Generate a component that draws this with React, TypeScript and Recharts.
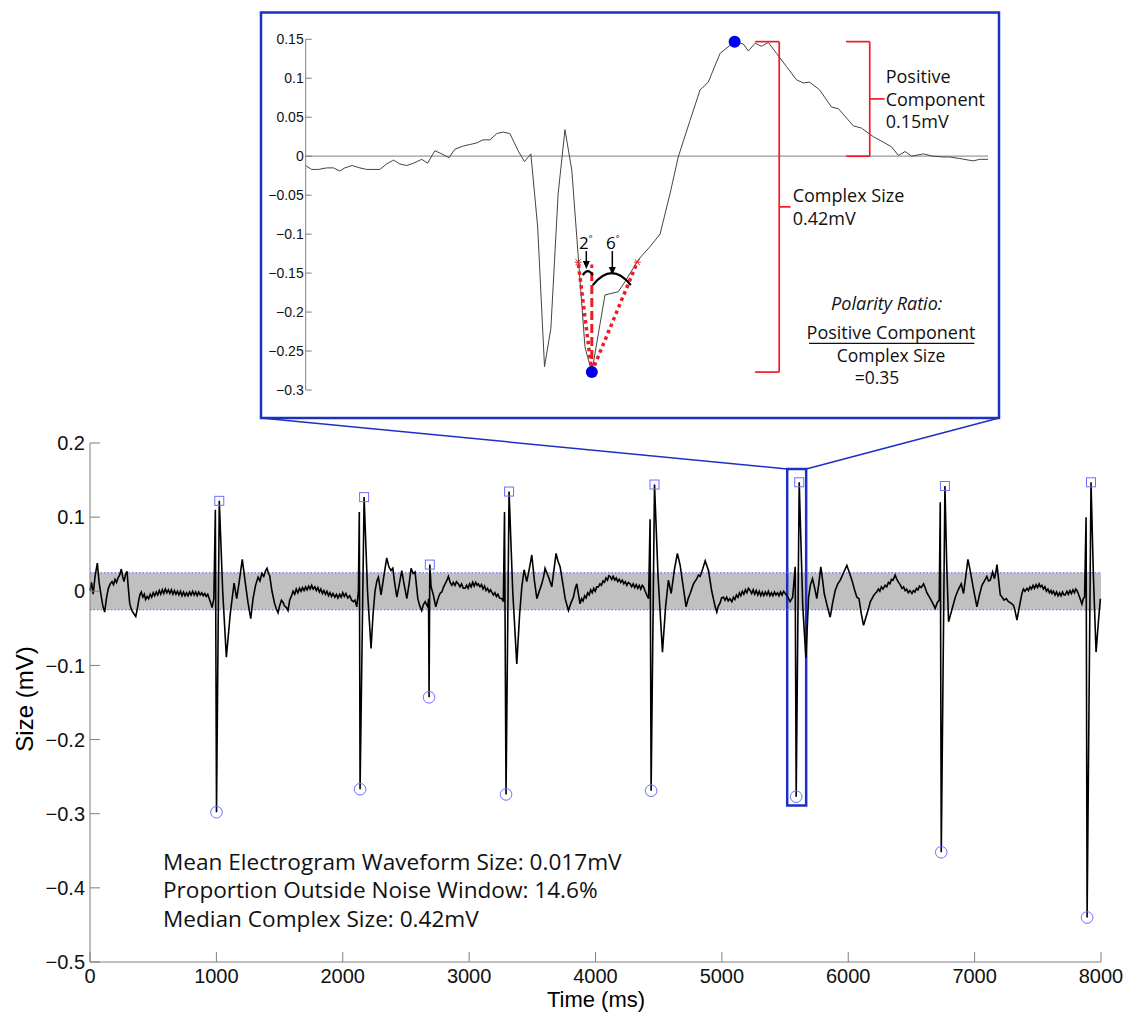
import React from "react";
import {
  ComposedChart,
  Line,
  Scatter,
  XAxis,
  YAxis,
  ReferenceArea,
  ReferenceLine,
  ReferenceDot,
} from "recharts";

// Electrogram trace: [time ms, size mV]
const trace: [number, number][] = [
  [0, 0.001], [12, 0.012], [25, -0.004], [40, 0.02], [58, 0.038], [72, 0.012], [88, -0.006], [102, -0.02],
  [116, -0.028], [130, -0.01], [145, 0.004], [160, 0.01], [174, 0.013], [186, 0.009], [198, 0.016], [210, 0.012],
  [222, 0.018], [235, 0.022], [248, 0.03], [258, 0.02], [269, 0.013], [280, 0.022], [293, 0.027], [303, 0.005],
  [314, -0.016], [326, -0.024], [338, -0.028], [350, -0.031], [362, -0.034], [374, -0.024], [386, -0.012], [396, -0.004],
  [406, -0.001], [418, -0.008], [430, -0.004], [440, -0.011], [452, -0.007], [464, -0.01], [476, -0.004], [488, -0.008],
  [500, -0.002], [512, -0.006], [524, -0.001], [536, -0.005], [548, 0.001], [560, -0.004], [572, 0.002], [584, -0.003],
  [596, 0.003], [608, -0.002], [620, 0.002], [632, -0.003], [644, 0.002], [656, -0.004], [668, 0.001], [680, -0.004],
  [692, 0.0], [704, -0.005], [716, 0.0], [728, -0.006], [740, -0.001], [752, -0.006], [764, -0.002], [776, -0.006],
  [788, -0.001], [800, -0.005], [812, 0.0], [824, -0.005], [836, -0.001], [848, -0.006], [860, -0.001], [872, -0.005],
  [884, -0.002], [896, -0.006], [908, -0.003], [920, -0.007], [932, -0.004], [944, -0.01], [956, -0.016], [966, -0.022],
  [980, -0.01], [992, 0.11], [1001, -0.298], [1023, 0.122], [1050, 0.0], [1079, -0.089], [1110, -0.03], [1140, 0.011],
  [1161, -0.01], [1180, 0.012], [1205, 0.043], [1230, 0.01], [1250, -0.015], [1272, -0.037], [1290, -0.01], [1310, 0.008],
  [1330, 0.019], [1345, 0.014], [1360, 0.024], [1375, 0.02], [1390, 0.028], [1401, 0.031], [1412, 0.024], [1422, 0.021],
  [1440, 0.0], [1460, -0.016], [1475, -0.024], [1488, -0.029], [1500, -0.02], [1515, -0.012], [1528, -0.015], [1540, -0.02],
  [1555, -0.022], [1567, -0.026], [1580, -0.012], [1595, -0.006], [1607, 0.0], [1620, -0.004], [1632, 0.003], [1645, -0.002],
  [1658, 0.004], [1670, 0.0], [1682, 0.005], [1694, 0.001], [1706, 0.006], [1718, 0.002], [1730, 0.007], [1742, 0.003],
  [1754, 0.008], [1766, 0.003], [1779, 0.006], [1791, 0.001], [1803, 0.005], [1815, -0.001], [1827, 0.003], [1839, -0.003],
  [1851, 0.001], [1863, -0.004], [1875, 0.0], [1887, -0.006], [1899, -0.002], [1911, -0.007], [1923, -0.003], [1937, -0.008],
  [1950, -0.004], [1962, -0.009], [1975, -0.004], [1987, -0.008], [2000, -0.002], [2012, -0.007], [2025, -0.003], [2040, -0.009],
  [2055, -0.006], [2070, -0.012], [2084, -0.014], [2097, -0.012], [2111, -0.021], [2124, 0.0], [2131, 0.107], [2137, -0.267],
  [2169, 0.127], [2196, 0.0], [2224, -0.077], [2240, -0.03], [2256, 0.001], [2270, 0.014], [2282, 0.019], [2292, 0.008],
  [2303, -0.005], [2325, 0.02], [2348, 0.045], [2365, 0.033], [2382, 0.028], [2396, 0.031], [2412, 0.01], [2428, -0.008],
  [2448, 0.01], [2467, 0.028], [2487, 0.008], [2507, -0.01], [2525, 0.01], [2541, 0.031], [2556, 0.024], [2572, 0.026],
  [2583, 0.008], [2594, -0.01], [2610, -0.02], [2625, -0.026], [2638, -0.018], [2652, -0.014], [2663, -0.018], [2673, -0.021],
  [2679, -0.01], [2683, -0.143], [2689, 0.036], [2699, 0.006], [2717, -0.005], [2736, -0.021], [2750, -0.012], [2762, -0.006],
  [2773, -0.002], [2784, -0.001], [2796, 0.005], [2810, 0.01], [2822, 0.014], [2836, 0.02], [2850, 0.012], [2863, 0.008],
  [2875, 0.012], [2888, 0.008], [2900, 0.013], [2915, 0.01], [2928, 0.006], [2940, 0.01], [2954, 0.004], [2968, 0.004],
  [2980, 0.008], [2992, 0.004], [3004, 0.01], [3016, 0.006], [3028, 0.012], [3040, 0.007], [3052, 0.012], [3064, 0.008],
  [3073, 0.01], [3086, 0.006], [3098, 0.009], [3110, 0.003], [3122, 0.007], [3134, 0.001], [3146, 0.004], [3158, -0.001],
  [3170, 0.002], [3179, -0.001], [3192, -0.005], [3204, -0.002], [3216, -0.007], [3228, -0.004], [3240, -0.009], [3259, -0.01],
  [3271, -0.014], [3280, 0.107], [3292, -0.274], [3316, 0.1345], [3345, 0.0], [3377, -0.098], [3400, -0.03], [3417, 0.006],
  [3435, 0.029], [3456, 0.013], [3476, 0.03], [3496, 0.049], [3516, 0.015], [3536, -0.01], [3555, 0.0], [3575, 0.01],
  [3590, 0.02], [3601, 0.031], [3617, 0.024], [3633, 0.017], [3654, 0.006], [3672, 0.03], [3688, 0.051], [3704, 0.04],
  [3720, 0.033], [3740, 0.012], [3760, -0.01], [3773, -0.018], [3786, -0.026], [3805, -0.016], [3825, -0.008], [3840, 0.004],
  [3852, 0.01], [3865, -0.004], [3878, -0.017], [3890, -0.01], [3902, -0.013], [3914, -0.006], [3926, -0.009], [3938, -0.002],
  [3950, -0.005], [3962, 0.002], [3974, -0.002], [3986, 0.004], [3998, 0.0], [4010, 0.006], [4023, 0.006], [4035, 0.01],
  [4047, 0.008], [4059, 0.014], [4071, 0.012], [4083, 0.018], [4095, 0.015], [4106, 0.021], [4116, 0.02], [4128, 0.016],
  [4140, 0.02], [4152, 0.015], [4164, 0.018], [4176, 0.013], [4188, 0.016], [4200, 0.012], [4212, 0.015], [4224, 0.01],
  [4236, 0.013], [4248, 0.008], [4260, 0.012], [4274, 0.01], [4286, 0.006], [4298, 0.01], [4310, 0.005], [4322, 0.009],
  [4334, 0.004], [4346, 0.008], [4358, 0.003], [4370, 0.008], [4380, 0.006], [4393, 0.0], [4406, -0.005], [4420, -0.01],
  [4432, 0.097], [4440, -0.269], [4467, 0.144], [4495, 0.02], [4530, -0.082], [4555, -0.02], [4577, 0.015], [4599, -0.003],
  [4625, 0.03], [4648, 0.051], [4670, 0.035], [4695, 0.005], [4717, -0.021], [4733, -0.01], [4749, -0.003], [4775, 0.01],
  [4802, 0.017], [4815, 0.022], [4828, 0.02], [4848, 0.03], [4868, 0.041], [4894, 0.028], [4920, 0.0], [4947, -0.021],
  [4960, -0.028], [4972, -0.02], [4985, -0.016], [4998, -0.009], [5013, -0.008], [5025, -0.012], [5038, -0.008], [5050, -0.013],
  [5063, -0.01], [5079, -0.014], [5091, -0.008], [5103, -0.011], [5115, -0.005], [5127, -0.008], [5139, -0.002], [5150, -0.006],
  [5162, 0.0], [5174, -0.004], [5186, 0.002], [5198, -0.002], [5210, 0.004], [5224, 0.001], [5236, -0.003], [5248, 0.002],
  [5260, -0.004], [5272, 0.001], [5284, -0.005], [5296, 0.0], [5308, -0.006], [5320, -0.001], [5332, -0.006], [5344, -0.001],
  [5356, -0.005], [5368, 0.0], [5380, -0.006], [5392, -0.002], [5404, -0.006], [5416, -0.001], [5428, -0.005], [5440, -0.002],
  [5452, -0.006], [5464, -0.001], [5476, -0.005], [5488, 0.0], [5501, -0.003], [5515, -0.006], [5528, -0.01], [5540, -0.014],
  [5560, -0.008], [5580, 0.033], [5588, -0.277], [5612, 0.147], [5640, -0.02], [5665, -0.09], [5686, -0.008], [5700, 0.008],
  [5717, 0.017], [5735, 0.004], [5751, -0.01], [5767, 0.01], [5783, 0.033], [5797, 0.015], [5810, -0.003], [5834, -0.02],
  [5857, -0.035], [5877, -0.015], [5897, 0.001], [5917, 0.01], [5937, 0.015], [5963, 0.025], [5989, 0.035], [6009, 0.025],
  [6029, 0.015], [6048, 0.003], [6068, -0.008], [6085, -0.01], [6103, -0.03], [6121, -0.046], [6140, -0.035], [6161, -0.023],
  [6175, -0.014], [6188, -0.01], [6200, -0.006], [6213, -0.003], [6225, -0.001], [6238, 0.003], [6250, 0.0], [6262, 0.006],
  [6275, 0.003], [6292, 0.008], [6305, 0.006], [6318, 0.012], [6330, 0.01], [6342, 0.016], [6355, 0.015], [6371, 0.022],
  [6385, 0.016], [6398, 0.012], [6411, 0.009], [6425, 0.004], [6438, 0.006], [6450, 0.001], [6462, 0.003], [6475, -0.002],
  [6488, 0.001], [6504, -0.003], [6516, 0.001], [6528, -0.001], [6540, 0.004], [6552, 0.002], [6564, 0.007], [6578, 0.005],
  [6596, 0.01], [6610, 0.004], [6622, -0.002], [6636, -0.006], [6649, -0.01], [6668, -0.016], [6688, -0.023], [6705, -0.015],
  [6720, -0.012], [6728, 0.12], [6736, -0.352], [6765, 0.142], [6780, 0.03], [6794, -0.041], [6820, -0.025], [6847, -0.008],
  [6870, 0.002], [6894, 0.01], [6912, -0.003], [6930, 0.02], [6947, 0.043], [6965, 0.028], [6990, 0.004], [7018, -0.021],
  [7038, -0.005], [7058, 0.008], [7078, 0.014], [7097, 0.02], [7110, 0.014], [7124, 0.015], [7142, 0.026], [7157, 0.017],
  [7168, 0.026], [7177, 0.036], [7190, 0.015], [7203, -0.005], [7218, -0.008], [7233, -0.012], [7250, -0.01], [7268, -0.014],
  [7288, -0.016], [7308, -0.019], [7322, -0.028], [7335, -0.039], [7355, -0.02], [7374, -0.003], [7386, 0.003], [7398, 0.0],
  [7414, 0.004], [7426, 0.001], [7438, 0.006], [7450, 0.003], [7462, 0.008], [7474, 0.004], [7486, 0.009], [7498, 0.005],
  [7510, 0.01], [7520, 0.006], [7532, 0.008], [7544, 0.003], [7556, 0.006], [7568, 0.0], [7580, 0.003], [7592, -0.002],
  [7604, 0.001], [7612, -0.003], [7624, 0.0], [7636, -0.005], [7648, -0.001], [7660, -0.006], [7672, -0.002], [7684, -0.006],
  [7696, -0.001], [7708, -0.005], [7717, -0.005], [7730, 0.0], [7742, -0.004], [7754, 0.001], [7766, -0.003], [7778, 0.002],
  [7790, -0.002], [7800, 0.003], [7810, 0.001], [7822, -0.004], [7835, -0.01], [7849, -0.017], [7860, -0.01], [7870, -0.008],
  [7882, 0.1], [7890, -0.44], [7921, 0.147], [7940, 0.02], [7961, -0.082], [7980, -0.04], [7995, -0.01],
];

// detected complex extrema
const peaks: [number, number][] = [
  [1023, 0.122], [2169, 0.127], [2689, 0.036], [3316, 0.1345],
  [4467, 0.144], [5612, 0.147], [6765, 0.142], [7921, 0.147],
];
const troughs: [number, number][] = [
  [1001, -0.298], [2137, -0.267], [2683, -0.143], [3292, -0.274],
  [4440, -0.269], [5588, -0.277], [6736, -0.352], [7890, -0.44],
];

const noiseWindow = 0.025;
const timeTicks = [0, 1000, 2000, 3000, 4000, 5000, 6000, 7000, 8000];
const sizeTicks = [0.2, 0.1, 0, -0.1, -0.2, -0.3, -0.4, -0.5];

// zoomed complex (ms from window start)
const zoomTrace: [number, number][] = [
  [0, -0.012], [1.3, -0.017], [2.8, -0.017], [4.6, -0.015], [6.1, -0.015], [7.5, -0.019], [8.6, -0.015],
  [10.2, -0.012], [11.9, -0.015], [13.4, -0.017], [16.3, -0.017], [17.8, -0.01], [19.3, -0.005], [20.7, -0.01],
  [22.2, -0.012], [23.7, -0.009], [25.5, -0.004], [26.8, -0.009], [28.4, 0.007], [29.9, 0.003], [31.5, -0.002],
  [32.8, 0.009], [34.6, 0.013], [36.1, 0.015], [37.6, 0.017], [39.0, 0.021], [40.5, 0.021], [42.0, 0.029],
  [43.4, 0.031], [44.9, 0.029], [46.7, 0.007], [48.1, -0.007], [49.5, 0.003], [51.0, -0.091], [52.5, -0.27],
  [53.9, -0.221], [55.5, -0.048], [57.0, 0.034], [58.5, -0.018], [61.4, -0.245], [62.9, -0.277], [65.8, -0.178],
  [68.7, -0.174], [70.2, -0.161], [73.1, -0.133], [75.7, -0.116], [77.9, -0.1], [80.1, -0.048], [81.9, -0.001],
  [84.5, 0.046], [86.7, 0.085], [88.5, 0.095], [91.1, 0.132], [94.3, 0.147], [96.2, 0.144], [97.3, 0.135],
  [98.8, 0.145], [100.2, 0.141], [101.7, 0.146], [103.5, 0.132], [105.7, 0.115], [107.9, 0.098], [109.4, 0.094],
  [110.8, 0.095], [113.0, 0.085], [115.6, 0.063], [117.1, 0.061], [120.4, 0.039], [122.2, 0.036], [124.8, 0.025],
  [127.0, 0.018], [128.8, 0.012], [130.3, 0.001], [131.8, 0.006], [133.2, 0.0], [135.8, 0.003], [137.9, 0.0],
  [140.1, -0.001], [141.6, -0.001], [143.8, -0.003], [146.7, -0.006], [148.2, -0.004], [150.0, -0.004],
];
const zoomTicks = [0.15, 0.1, 0.05, 0, -0.05, -0.1, -0.15, -0.2, -0.25, -0.3];

const zoomPeak = { t: 94.3, v: 0.147 };
const zoomTrough = { t: 62.9, v: -0.277 };
// slope end points used for the onset / offset angles
const downSlope = { t: 59.9, v: -0.136 };
const upSlope = { t: 72.9, v: -0.136 };
const bracketPos = { complex: 104.1, positive: 124.0 };

const statLines = [
  "Mean Electrogram Waveform Size: 0.017mV",
  "Proportion Outside Noise Window: 14.6%",
  "Median Complex Size: 0.42mV",
];

const toRows = (pairs: [number, number][]) => pairs.map(([t, v]) => ({ t, v }));

const W = 1135;
const H = 1012;
const plot = { left: 90, top: 443, width: 1011, height: 519 };
const pxX = (t: number) => plot.left + (t / 8000) * plot.width;
const pxY = (v: number) => plot.top + ((0.2 - v) / 0.7) * plot.height;

const highlight = { t1: 5517, t2: 5667, v1: -0.289, v2: 0.165 };
const insetBox = { x: 261, y: 12.5, w: 738, h: 405.5 };

const AXIS = "#7f7f7f";
const MARK = "#6e6eff";
const FRAME = "#1c30c4";
const RED = "#ec1c24";
const helv = "'Liberation Sans', Arial, sans-serif";
const human = "'Open Sans', sans-serif";

const fmt = (v: number) => (v < 0 ? "\u2212" + String(Math.abs(v)) : String(v));

const Square = (p: any) => (
  <rect x={p.cx - 4.5} y={p.cy - 4.5} width={9} height={9} fill="none" stroke={MARK} strokeWidth={1} />
);
const Ring = (p: any) => <circle cx={p.cx} cy={p.cy} r={5.8} fill="none" stroke={MARK} strokeWidth={1} />;

const Star = (p: any) => (
  <g stroke={RED} strokeWidth={1}>
    <line x1={p.cx - 3.5} y1={p.cy} x2={p.cx + 3.5} y2={p.cy} />
    <line x1={p.cx - 2.5} y1={p.cy - 3} x2={p.cx + 2.5} y2={p.cy + 3} />
    <line x1={p.cx - 2.5} y1={p.cy + 3} x2={p.cx + 2.5} y2={p.cy - 3} />
  </g>
);

// angle arcs, arrows and degree labels drawn around the trough vertex
const AngleMarks = (p: any) => {
  const { cx, cy } = p;
  const arrow = (x: number, y0: number, tip: number) => (
    <g>
      <line x1={x} y1={cy + y0} x2={x} y2={cy + tip - 6} stroke="#000" strokeWidth={1.5} />
      <polygon points={`${x - 3.5},${cy + tip - 8} ${x + 3.5},${cy + tip - 8} ${x},${cy + tip}`} fill="#000" />
    </g>
  );
  return (
    <g>
      <circle cx={cx} cy={cy} r={6} fill="#0000ee" />
      <path d={`M${cx - 9},${cy - 97} Q${cx - 4},${cy - 105} ${cx + 1},${cy - 97}`} stroke="#000" strokeWidth={2.2} fill="none" />
      <path d={`M${cx + 1},${cy - 87} Q${cx + 20},${cy - 111} ${cx + 39},${cy - 87}`} stroke="#000" strokeWidth={2.2} fill="none" />
      {arrow(cx - 5.5, -121, -103)}
      {arrow(cx + 20.5, -121, -97)}
      <text x={cx - 6} y={cy - 123} textAnchor="middle" fontFamily={human} fontSize={17} fill="#000">
        2<tspan fontSize={9} dy={-7}>°</tspan>
      </text>
      <text x={cx + 21} y={cy - 123} textAnchor="middle" fontFamily={human} fontSize={17} fill="#000">
        6<tspan fontSize={9} dy={-7}>°</tspan>
      </text>
    </g>
  );
};

function MainChart() {
  return (
    <ComposedChart width={W} height={H} data={toRows(trace)} margin={{ top: 443, right: 34, bottom: 20, left: 30 }}>
      <XAxis
        type="number"
        dataKey="t"
        domain={[0, 8000]}
        ticks={timeTicks}
        height={30}
        tickSize={-10}
        tickMargin={17}
        stroke={AXIS}
        tick={{ fill: "#111", fontSize: 20, fontFamily: helv }}
      />
      <YAxis
        type="number"
        domain={[-0.5, 0.2]}
        ticks={sizeTicks}
        width={60}
        tickSize={-10}
        tickMargin={15}
        stroke={AXIS}
        tickFormatter={fmt}
        tick={{ fill: "#111", fontSize: 20, fontFamily: helv }}
      />
      <ReferenceArea x1={0} x2={8000} y1={-noiseWindow} y2={noiseWindow} fill="#c0c0c0" fillOpacity={1} stroke="none" />
      <ReferenceLine y={noiseWindow} stroke="#5a5aff" strokeDasharray="1.5 2" strokeWidth={1} />
      <ReferenceLine y={-noiseWindow} stroke="#5a5aff" strokeDasharray="1.5 2" strokeWidth={1} />
      <Line dataKey="v" stroke="#000" strokeWidth={1.6} dot={false} type="linear" isAnimationActive={false} />
      <Scatter data={toRows(peaks)} dataKey="v" shape={Square} isAnimationActive={false} />
      <Scatter data={toRows(troughs)} dataKey="v" shape={Ring} isAnimationActive={false} />
      <ReferenceArea
        x1={highlight.t1}
        x2={highlight.t2}
        y1={highlight.v1}
        y2={highlight.v2}
        fill="none"
        stroke={FRAME}
        strokeWidth={2.5}
        ifOverflow="visible"
      />
    </ComposedChart>
  );
}

function InsetChart() {
  const seg = (a: [number, number], b: [number, number], extra: any = {}) => (
    <ReferenceLine
      segment={[{ x: a[0], y: a[1] }, { x: b[0], y: b[1] }]}
      stroke={RED}
      strokeWidth={1.7}
      ifOverflow="visible"
      {...extra}
    />
  );
  const cs = bracketPos.complex;
  const pc = bracketPos.positive;
  const mid = (zoomPeak.v + zoomTrough.v) / 2;
  return (
    <ComposedChart width={W} height={420} data={toRows(zoomTrace)} margin={{ top: 39.3, right: 147, bottom: 30, left: 255.7 }}>
      <XAxis type="number" dataKey="t" domain={[0, 150]} hide />
      <YAxis
        type="number"
        domain={[-0.3, 0.15]}
        ticks={zoomTicks}
        width={50}
        tickSize={-6}
        tickMargin={8}
        stroke={AXIS}
        tickFormatter={fmt}
        tick={{ fill: "#111", fontSize: 14, fontFamily: helv }}
      />
      <ReferenceLine y={0} stroke="#9a9a9a" strokeWidth={1.2} />
      <Line dataKey="v" stroke="#444" strokeWidth={1} dot={false} type="linear" isAnimationActive={false} />
      {/* onset / offset slopes and vertical reference */}
      {seg([zoomTrough.t, zoomTrough.v], [downSlope.t, downSlope.v], { strokeWidth: 3.5, strokeDasharray: "3.5 3.5" })}
      {seg([zoomTrough.t, zoomTrough.v], [upSlope.t, upSlope.v], { strokeWidth: 3.5, strokeDasharray: "3.5 3.5" })}
      {seg([zoomTrough.t, zoomTrough.v], [zoomTrough.t, -0.139], { strokeWidth: 3, strokeDasharray: "9 4" })}
      <ReferenceDot x={downSlope.t} y={downSlope.v} shape={Star} ifOverflow="visible" />
      <ReferenceDot x={upSlope.t} y={upSlope.v} shape={Star} ifOverflow="visible" />
      {/* complex size bracket */}
      {seg([cs, zoomPeak.v], [cs, zoomTrough.v])}
      {seg([cs - 5.3, zoomPeak.v], [cs, zoomPeak.v])}
      {seg([cs - 5.3, zoomTrough.v], [cs, zoomTrough.v])}
      {seg([cs, mid], [cs + 2.5, mid])}
      {/* positive component bracket */}
      {seg([pc, zoomPeak.v], [pc, 0])}
      {seg([pc - 5.2, zoomPeak.v], [pc, zoomPeak.v])}
      {seg([pc - 5.2, 0], [pc, 0])}
      {seg([pc, zoomPeak.v / 2], [pc + 3.3, zoomPeak.v / 2])}
      <ReferenceDot x={zoomPeak.t} y={zoomPeak.v} r={6} fill="#0000ee" stroke="none" ifOverflow="visible" />
      <ReferenceDot x={zoomTrough.t} y={zoomTrough.v} shape={AngleMarks} ifOverflow="visible" />
    </ComposedChart>
  );
}

export default function App() {
  const positive = zoomPeak.v;
  const complex = zoomPeak.v - zoomTrough.v;
  const ratio = positive / complex;
  const rx1 = pxX(highlight.t1);
  const rx2 = pxX(highlight.t2);
  const ry = pxY(highlight.v2);
  return (
    <div style={{ position: "absolute", left: 0, top: 0, width: W, height: H, background: "#fff", overflow: "hidden" }}>
      <div style={{ position: "absolute", left: 0, top: 0 }}>
        <MainChart />
      </div>
      <svg width={W} height={H} style={{ position: "absolute", left: 0, top: 0, pointerEvents: "none" }}>
        <line x1={insetBox.x} y1={insetBox.y + insetBox.h} x2={rx1} y2={ry} stroke={FRAME} strokeWidth={1.5} />
        <line x1={insetBox.x + insetBox.w} y1={insetBox.y + insetBox.h} x2={rx2} y2={ry} stroke={FRAME} strokeWidth={1.5} />
        <rect x={insetBox.x} y={insetBox.y} width={insetBox.w} height={insetBox.h} fill="#fff" stroke={FRAME} strokeWidth={2.5} />
      </svg>
      <div style={{ position: "absolute", left: 0, top: 0 }}>
        <InsetChart />
      </div>
      <svg width={W} height={H} style={{ position: "absolute", left: 0, top: 0, pointerEvents: "none" }}>
        <g fontFamily={human} fontSize={18} fill="#111">
          <text x={885.7} y={82.7}>Positive</text>
          <text x={885.7} y={106}>Component</text>
          <text x={885.7} y={128.3}>{positive.toFixed(2)}mV</text>
          <text x={792.7} y={202.3}>Complex Size</text>
          <text x={792.7} y={225}>{complex.toFixed(2)}mV</text>
          <text x={886.7} y={310} textAnchor="middle" fontStyle="italic">Polarity Ratio:</text>
          <text x={891} y={339} textAnchor="middle">Positive Component</text>
          <line x1={809} y1={343.3} x2={974.3} y2={343.3} stroke="#111" strokeWidth={1.3} />
          <text x={891} y={361.5} textAnchor="middle" fontSize={17.5}>Complex Size</text>
          <text x={877} y={383.5} textAnchor="middle" fontSize={17.5}>={ratio.toFixed(2)}</text>
        </g>
        <g fontFamily={human} fontSize={22.6} fill="#111">
          {statLines.map((s, i) => (
            <text key={s} x={163} y={870 + i * 28.3}>{s}</text>
          ))}
        </g>
        <text x={596} y={1006.5} textAnchor="middle" fontFamily={helv} fontSize={22} fill="#000">Time (ms)</text>
        <text x={33} y={699} textAnchor="middle" fontFamily={helv} fontSize={24} fill="#000" transform="rotate(-90 33 699)">
          Size (mV)
        </text>
      </svg>
    </div>
  );
}
